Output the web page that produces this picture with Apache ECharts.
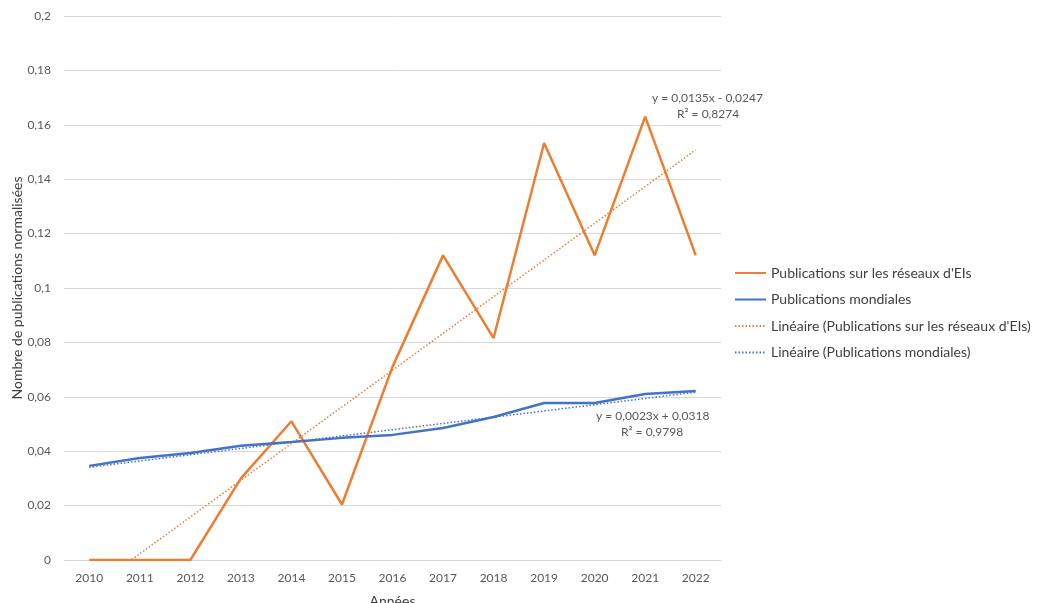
<!DOCTYPE html>
<html>
<head>
<meta charset="utf-8">
<script src="https://cdn.jsdelivr.net/npm/echarts@6/dist/echarts.min.js"></script>
<style>html,body{margin:0;padding:0;background:#fff}#c{width:1040px;height:603px}</style>
</head>
<body>
<div id="c"></div>
<script>
const years = ['2010','2011','2012','2013','2014','2015','2016','2017','2018','2019','2020','2021','2022'];
const reseaux = [0, 0, 0, 0.030, 0.051, 0.0204, 0.071, 0.112, 0.0816, 0.1533, 0.112, 0.163, 0.112];
const mondiales = [0.0346, 0.0375, 0.0393, 0.042, 0.0434, 0.0449, 0.046, 0.0485, 0.0526, 0.0577, 0.0577, 0.061, 0.0621];
// trendline coefficients as shown on the chart: [slope, intercept]
const trendReseaux = [0.0135, -0.0247];
const trendMondiales = [0.0023, 0.0318];
const yTicks = [0, 0.02, 0.04, 0.06, 0.08, 0.1, 0.12, 0.14, 0.16, 0.18, 0.2];

const names = ["Publications sur les réseaux d'EIs", "Publications mondiales",
  "Linéaire (Publications sur les réseaux d'EIs)", "Linéaire (Publications mondiales)"];

function trendEnds(c) {
  const n = years.length;
  return [[years[0], c[0] * 1 + c[1]], [years[n - 1], c[0] * n + c[1]]];
}

const FONT = 'Lato';
const chart = echarts.init(document.getElementById('c'));
chart.setOption({
  animation: false,
  textStyle: { fontFamily: FONT },
  grid: { left: 64, right: 319, top: 16, bottom: 43, containLabel: false, outerBoundsMode: 'none' },
  legend: {
    orient: 'vertical', left: 729, top: 261, itemWidth: 31, itemHeight: 10, itemGap: 12.5,
    itemStyle: { opacity: 0 },
    textStyle: { fontFamily: FONT, fontSize: 14, color: '#404040' },
    data: names
  },
  xAxis: {
    type: 'category', data: years, boundaryGap: true,
    name: 'Années', nameLocation: 'middle', nameGap: 34, nameMoveOverlap: false,
    nameTextStyle: { fontFamily: FONT, fontSize: 14, color: '#404040' },
    axisLine: { lineStyle: { color: '#d9d9d9', width: 1 } },
    axisTick: { show: false },
    axisLabel: { color: '#595959', fontSize: 12, margin: 12, fontFamily: FONT }
  },
  yAxis: {
    type: 'value', min: 0, max: 0.2, interval: 0.02,
    name: 'Nombre de publications normalisées', nameLocation: 'middle', nameGap: 40, nameMoveOverlap: false,
    nameTextStyle: { fontFamily: FONT, fontSize: 14, color: '#404040' },
    axisLine: { show: false }, axisTick: { show: false },
    splitLine: { lineStyle: { color: '#d9d9d9', width: 1 } },
    axisLabel: {
      color: '#595959', fontSize: 12, margin: 13, fontFamily: FONT,
      formatter: v => {
        const t = yTicks.find(x => Math.abs(x - v) < 1e-9);
        return String(+(t !== undefined ? t : v).toFixed(2)).replace('.', ',');
      }
    }
  },
  series: [
    { name: names[0], type: 'line', data: reseaux, symbol: 'none', z: 3,
      lineStyle: { color: '#ED7D31', width: 2.5 }, itemStyle: { color: '#ED7D31' } },
    { name: names[1], type: 'line', data: mondiales, symbol: 'none', z: 3,
      lineStyle: { color: '#4472C4', width: 2.5 }, itemStyle: { color: '#4472C4' } },
    { name: names[2], type: 'line', data: trendEnds(trendReseaux), symbol: 'none', clip: true, z: 2,
      lineStyle: { color: '#ED7D31', width: 1.5, type: [1.5, 2] }, itemStyle: { color: '#ED7D31' } },
    { name: names[3], type: 'line', data: trendEnds(trendMondiales), symbol: 'none', clip: true, z: 2,
      lineStyle: { color: '#4472C4', width: 1.5, type: [1.5, 2] }, itemStyle: { color: '#4472C4' } }
  ],
  graphic: [
    { type: 'text', left: 652, top: 92, style: { text: 'y = 0,0135x - 0,0247', fontFamily: FONT, fontSize: 12, fill: '#595959' } },
    { type: 'text', left: 677, top: 108, style: { text: 'R² = 0,8274', fontFamily: FONT, fontSize: 12, fill: '#595959' } },
    { type: 'text', left: 596, top: 410, style: { text: 'y = 0,0023x + 0,0318', fontFamily: FONT, fontSize: 12, fill: '#595959' } },
    { type: 'text', left: 621, top: 426, style: { text: 'R² = 0,9798', fontFamily: FONT, fontSize: 12, fill: '#595959' } }
  ]
});
</script>
</body>
</html>
